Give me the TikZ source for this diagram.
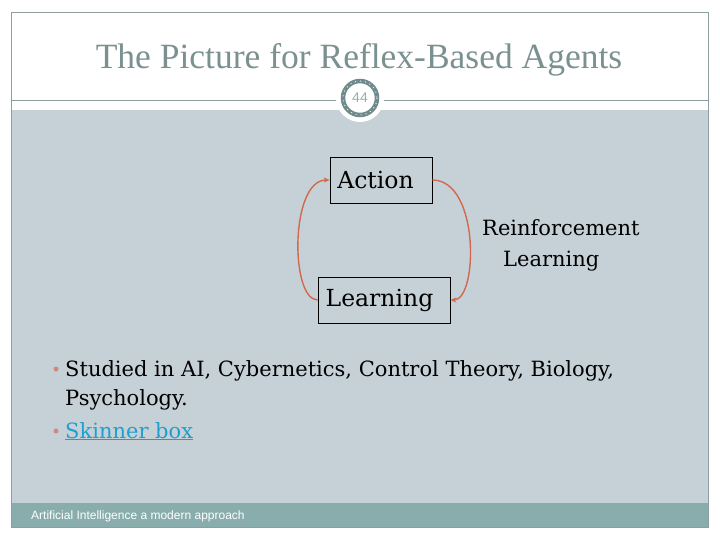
\documentclass[tikz,border=0pt]{standalone}
\usepackage{fontspec}
\setmainfont{DejaVu Serif}
\newfontfamily\titlefont{Liberation Serif}
\newfontfamily\footfont{Liberation Sans}
\usetikzlibrary{arrows.meta}
\definecolor{frame}{HTML}{8E9E9E}
\definecolor{panel}{HTML}{C6D1D7}
\definecolor{band}{HTML}{89ADAD}
\definecolor{titlec}{HTML}{7B9191}
\definecolor{ring}{HTML}{6F8B8B}
\definecolor{arrowc}{HTML}{D2694E}
\definecolor{bulletc}{HTML}{D08A7C}
\definecolor{linkc}{HTML}{1E9FCF}
\tikzset{
  boxnode/.style={draw=black, line width=0.6pt, inner sep=0pt, font=\fontsize{23.5}{26}\selectfont},
  loop/.style={draw=arrowc, line width=1.4pt, -{Stealth[length=6pt,width=5pt]}},
  bodytext/.style={anchor=base west, inner sep=0pt, font=\fontsize{21}{24}\selectfont},
  bul/.style={circle, fill=bulletc, inner sep=0pt, minimum size=5pt}
}
\begin{document}
\begin{tikzpicture}[x=1pt,y=-1pt]
\useasboundingbox (0,0) rectangle (720,540);
\fill[white] (0,0) rectangle (720,540);
% panel and footer band
\fill[panel] (11,110) rectangle (708,503);
\fill[band] (11,503) rectangle (708,527);
% frame
\draw[frame, line width=0.8pt] (11,12) rectangle (708,527);
\draw[frame, line width=0.8pt] (11,100) -- (708,100);
% title
\node[font=\titlefont\fontsize{35.5}{40}\selectfont, text=titlec, anchor=base] (title) at (359,69) {The Picture for Reflex-Based Agents};
% page number circle
\fill[white] (360,98) circle (24);
\node[circle, draw=ring, line width=4.5pt, fill=white, minimum size=34pt, inner sep=0pt,
      font=\footfont\fontsize{14}{16}\selectfont, text=ring!70] (num) at (360,98) {44};
\draw[white!85!ring, line width=1pt, dash pattern=on 1pt off 4pt] (360,98) circle (17);
% nodes
\node[boxnode, minimum width=102pt, minimum height=46pt] (action) at (381,180) {Action\kern11pt};
\node[boxnode, minimum width=132pt, minimum height=46pt] (learn) at (384,300) {Learning\kern9pt};
\draw[loop] (learn.west) .. controls (290,300) and (290,180) .. (action.west);
\draw[loop] (action.east) .. controls (480,180) and (478,300) .. (learn.east);
\node[anchor=base west, inner sep=0pt, font=\fontsize{21}{24}\selectfont] (rl1) at (482,236) {Reinforcement};
\node[anchor=base west, inner sep=0pt, font=\fontsize{21}{24}\selectfont] (rl2) at (503,266) {Learning};
% bullets
\node[bul] (b1) at (56,369) {};
\node[bodytext] (t1) at (65,376) {Studied in AI, Cybernetics, Control Theory, Biology,};
\node[bodytext] (t2) at (65,405) {Psychology.};
\node[bul] (b2) at (56,431) {};
\node[bodytext, text=linkc] (t3) at (65,438) {\underline{Skinner box}};
% footer
\node[anchor=base west, inner sep=0pt, text=white, font=\footfont\fontsize{12}{14}\selectfont] (foot) at (31,519) {Artificial Intelligence a modern approach};
\end{tikzpicture}
\end{document}
